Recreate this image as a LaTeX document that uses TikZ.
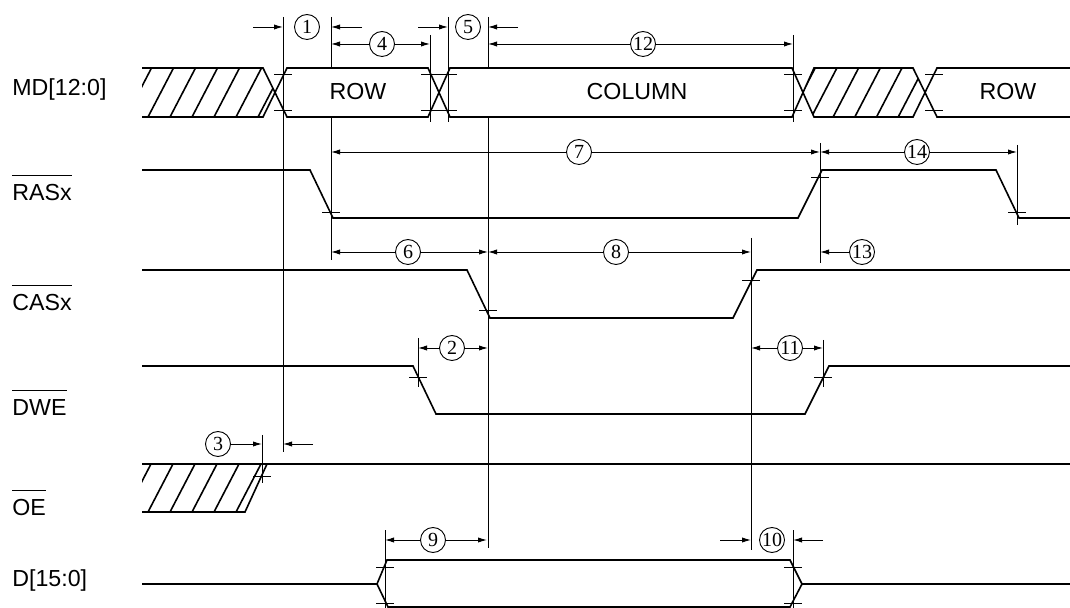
\documentclass[tikz,border=0pt]{standalone}
\usepackage{fontspec}
\setmainfont{Liberation Serif}
\setsansfont{Liberation Sans}
\usetikzlibrary{arrows.meta}

\newcommand{\ovl}[1]{$\overline{\mbox{\rule{0pt}{11.2pt}#1}}$}

\begin{document}
\begin{tikzpicture}[
		x=0.5pt, y=-0.5pt,
		>={Latex[length=4.5pt,width=2.6pt]},
		sig/.style={line width=0.8pt},
		thin/.style={line width=0.45pt},
		siglabel/.style={anchor=base west, inner sep=0pt, font=\sffamily\fontsize{11.6}{14}\selectfont},
		bustext/.style={inner sep=0pt, font=\sffamily\fontsize{11.6}{14}\selectfont},
		num/.style={circle, draw, thin, fill=white, minimum size=12.5pt, inner sep=0pt, font=\fontsize{10}{10}\selectfont}
	]
		\useasboundingbox (0,0) rectangle (1070,608);
		% signal names
		\node[siglabel] (lblMD)  at (12,96)  {MD[12:0]};
		\node[siglabel] (lblRAS) at (12,201) {\ovl{RASx}};
		\node[siglabel] (lblCAS) at (12,311) {\ovl{CASx}};
		\node[siglabel] (lblDWE) at (12,416) {\ovl{DWE}};
		\node[siglabel] (lblOE)  at (12,516) {\ovl{OE}};
		\node[siglabel] (lblD)   at (12,586) {D[15:0]};
		% hatched (invalid) parts
		\begin{scope}
			\clip (142,68) -- (263,68) -- (275,92.5) -- (263,117) -- (142,117) -- cycle;
			\foreach \x in {104,126,...,280} \draw[sig] (\x,117) -- ++(25.5,-49);
		\end{scope}
		\begin{scope}
			\clip (803,92.5) -- (814,68) -- (913,68) -- (925,92.5) -- (913,117) -- (814,117) -- cycle;
			\foreach \x in {768,789.7,...,930} \draw[sig] (\x,117) -- ++(25.5,-49);
		\end{scope}
		\begin{scope}
			\clip (142,464) -- (267,464) -- (245,512) -- (142,512) -- cycle;
			\foreach \x in {104,126,...,280} \draw[sig] (\x,512) -- ++(25.5,-49);
		\end{scope}
		% waveforms
		\draw[sig] (142,68) -- (263,68) -- (287,117) -- (428,117) -- (450,68) -- (792,68) -- (814,117) -- (913,117) -- (937,68) -- (1070,68);
		\draw[sig] (142,117) -- (263,117) -- (287,68) -- (428,68) -- (450,117) -- (792,117) -- (814,68) -- (913,68) -- (937,117) -- (1070,117);
		\draw[sig] (142,170) -- (310,170) -- (333,218) -- (798,218) -- (822,170) -- (996,170) -- (1019,218) -- (1070,218);
		\draw[sig] (142,270) -- (467,270) -- (490,318) -- (733,318) -- (757,270) -- (1070,270);
		\draw[sig] (142,366) -- (413,366) -- (436,414) -- (805,414) -- (829,366) -- (1070,366);
		\draw[sig] (142,464) -- (1070,464);
		\draw[sig] (142,512) -- (245,512) -- (267,464);
		\draw[sig] (142,584) -- (377,584) -- (387,560) -- (790,560) -- (802,584) -- (1070,584);
		\draw[sig] (377,584) -- (388,607) -- (790,607) -- (802,584);
		\node[bustext] (row1) at (358,92) {ROW};
		\node[bustext] (col)  at (637,92) {COLUMN};
		\node[bustext] (row2) at (1008,92) {ROW};
		% reference lines and crossing marks
		\foreach \x/\a/\b in {283/17/452, 331/17/68, 331/117/260, 430/35/122, 448/17/122, 488/17/68, 488/117/548, 793/35/122,
			820/143/263, 1017/145/225, 751/238/550, 418/338/387, 823/340/387, 262/435/483, 385/530/608, 793/530/608}
			\draw[thin] (\x,\a) -- (\x,\b);
		\foreach \x/\y in {283/74, 283/110, 430/74, 430/110, 448/74, 448/110, 793/74, 793/110, 934/74, 934/110,
			331/212, 820/177, 1017/212, 488/310, 751/280, 418/377, 823/377, 262/476, 385/567, 385/603, 793/567, 793/603}
			\draw[thin] (\x-9,\y) -- (\x+9,\y);
		% timing parameters
		\draw[thin,<->] (331,44) -- (430,44);
		\draw[thin,<->] (488,44) -- (793,44);
		\draw[thin,<->] (331,152) -- (820,152);
		\draw[thin,<->] (820,152) -- (1017,152);
		\draw[thin,<->] (331,252) -- (488,252);
		\draw[thin,<->] (488,252) -- (751,252);
		\draw[thin,<->] (418,348) -- (488,348);
		\draw[thin,<->] (751,348) -- (823,348);
		\draw[thin,<->] (385,540) -- (487,540);
		\draw[thin,->] (253,27) -- (283,27);
		\draw[thin,->] (362,27) -- (331,27);
		\draw[thin,->] (418,27) -- (448,27);
		\draw[thin,->] (518,27) -- (488,27);
		\draw[thin,->] (313,444) -- (283,444);
		\draw[thin,->] (720,540) -- (751,540);
		\draw[thin,->] (823,540) -- (793,540);
		\node[num] (n1)  at (307,27)  {1};
		\node[num] (n2)  at (452,348) {2};
		\node[num] (n3)  at (218,444) {3};
		\node[num] (n4)  at (382,44)  {4};
		\node[num] (n5)  at (468,27)  {5};
		\node[num] (n6)  at (408,252) {6};
		\node[num] (n7)  at (579,152) {7};
		\node[num] (n8)  at (616,252) {8};
		\node[num] (n9)  at (433,540) {9};
		\node[num] (n10) at (772,540) {10};
		\node[num] (n11) at (790,348) {11};
		\node[num] (n12) at (643,44)  {12};
		\node[num] (n13) at (862,252) {13};
		\node[num] (n14) at (917,152) {14};
		\draw[thin,->] (n3) -- (262,444);
		\draw[thin,->] (n13) -- (820,252);
	\end{tikzpicture}
\end{document}
